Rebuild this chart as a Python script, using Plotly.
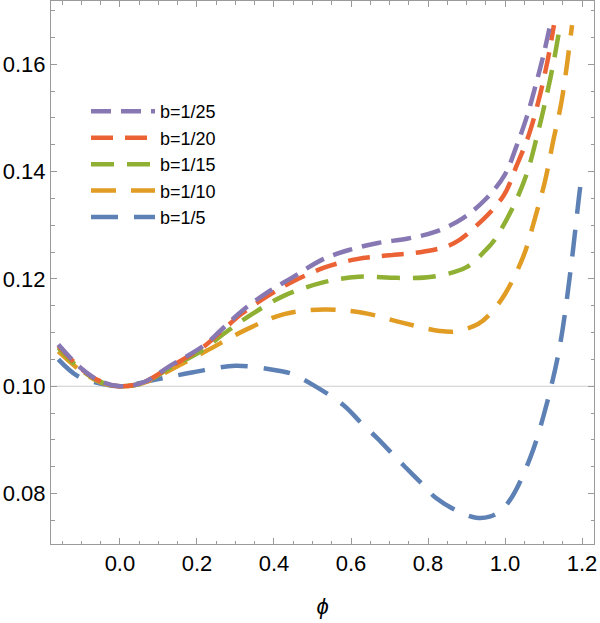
import plotly.graph_objects as go

# ---- data ----
labels = ["b=1/5", "b=1/10", "b=1/15", "b=1/20", "b=1/25"]
colors = ["#5E81B5", "#E19C24", "#8FB032", "#EB6235", "#8778B3"]
dashes = ["27px,16px", "25px,15px", "23px,13px", "22px,12px", "20px,10px"]

phi_b5 = [-0.16, -0.11, -0.05, 0.0, 0.09, 0.19, 0.30, 0.42, 0.45, 0.50, 0.58, 0.63, 0.67, 0.71,
          0.74, 0.79, 0.82, 0.88, 0.925, 0.96, 0.99, 1.02, 1.065, 1.10, 1.14, 1.17, 1.182, 1.195, 1.20]
v_b5 = [0.1050, 0.1019, 0.1005, 0.1000, 0.1012, 0.1026, 0.1038, 0.1028, 0.1022, 0.1003, 0.0965,
        0.0929, 0.0902, 0.0872, 0.0850, 0.0814, 0.0792, 0.0766, 0.0755, 0.0757, 0.0769, 0.0796,
        0.0866, 0.0945, 0.1066, 0.1215, 0.1289, 0.1370, 0.1392]

phi_b10 = [-0.16, -0.10, -0.05, 0.0, 0.06, 0.13, 0.225, 0.329, 0.424, 0.53, 0.63, 0.73, 0.83, 0.87,
           0.93, 0.96, 1.0, 1.048, 1.078, 1.104, 1.125, 1.147, 1.174]
v_b10 = [0.1065, 0.1028, 0.1007, 0.1000, 0.1006, 0.1030, 0.1066, 0.1106, 0.1134, 0.1143, 0.1137,
         0.1119, 0.1103, 0.1102, 0.1116, 0.1134, 0.1172, 0.1243, 0.1314, 0.1383, 0.1457, 0.1532, 0.1673]

phi_b15 = [-0.16, -0.10, -0.05, 0.0, 0.06, 0.13, 0.216, 0.268, 0.338, 0.424, 0.53, 0.62, 0.72, 0.81,
           0.90, 0.95, 0.974, 1.02, 1.056, 1.082, 1.104, 1.125, 1.143]
v_b15 = [0.1072, 0.1030, 0.1008, 0.1000, 0.1006, 0.1034, 0.1068, 0.1097, 0.1132, 0.1168, 0.1194,
         0.1204, 0.1202, 0.1204, 0.1222, 0.1254, 0.1274, 0.1333, 0.1395, 0.1463, 0.1529, 0.1600, 0.1673]

phi_b20 = [-0.16, -0.10, -0.05, 0.0, 0.06, 0.13, 0.216, 0.26, 0.316, 0.381, 0.44, 0.53, 0.615, 0.70,
           0.79, 0.866, 0.93, 0.996, 1.03, 1.061, 1.087, 1.11, 1.127]
v_b20 = [0.1076, 0.1032, 0.1009, 0.1000, 0.1007, 0.1036, 0.1073, 0.1100, 0.1135, 0.1167, 0.1192,
         0.1221, 0.1237, 0.1244, 0.1251, 0.1266, 0.1302, 0.1355, 0.1411, 0.1467, 0.1532, 0.1605, 0.1673]

phi_b25 = [-0.16, -0.10, -0.05, 0.0, 0.06, 0.13, 0.216, 0.26, 0.316, 0.381, 0.446, 0.528, 0.60,
           0.67, 0.745, 0.82, 0.89, 0.95, 1.0, 1.03, 1.056, 1.078, 1.10, 1.117]
v_b25 = [0.1078, 0.1033, 0.1009, 0.1000, 0.1007, 0.1038, 0.1075, 0.1103, 0.1140, 0.1174, 0.1202,
         0.1237, 0.1255, 0.1267, 0.1275, 0.1288, 0.1313, 0.1349, 0.1395, 0.1448, 0.1501, 0.1557,
         0.1618, 0.1673]

xs = [phi_b5, phi_b10, phi_b15, phi_b20, phi_b25]
ys = [v_b5, v_b10, v_b15, v_b20, v_b25]

x_range = [-0.179, 1.231]
y_range = [0.0706, 0.1718]
x_ticks = [0.0, 0.2, 0.4, 0.6, 0.8, 1.0, 1.2]
x_ticktext = ["0.0", "0.2", "0.4", "0.6", "0.8", "1.0", "1.2"]
y_ticks = [0.08, 0.10, 0.12, 0.14, 0.16]
y_ticktext = ["0.08", "0.10", "0.12", "0.14", "0.16"]
axis_line_y = 0.10

fig = go.Figure()
for x, y, lab, col, dsh in zip(xs, ys, labels, colors, dashes):
    fig.add_trace(go.Scatter(
        x=x, y=y, mode="lines", name=lab,
        line=dict(color=col, width=4.5, dash=dsh, shape="spline", smoothing=1.0),
    ))

fig.add_shape(type="line", xref="paper", x0=0, x1=1, yref="y", y0=axis_line_y, y1=axis_line_y,
              line=dict(color="#cccccc", width=1), layer="below")

frame = "#9a9a9a"
font_main = dict(family="Liberation Sans, Arial, sans-serif", size=22, color="#000000")

fig.update_xaxes(
    range=x_range, tickvals=x_ticks, ticktext=x_ticktext,
    showgrid=False, zeroline=False,
    showline=True, linecolor=frame, linewidth=1, mirror="allticks",
    ticks="inside", ticklen=6, tickcolor=frame, tickwidth=1,
    minor=dict(dtick=0.05, tick0=0, ticks="inside", ticklen=3.5, tickcolor=frame, showgrid=False),
    tickfont=font_main,
    title=dict(text="<i>ϕ</i>", font=font_main, standoff=23),
)
fig.update_yaxes(
    range=y_range, tickvals=y_ticks, ticktext=y_ticktext,
    showgrid=False, zeroline=False,
    showline=True, linecolor=frame, linewidth=1, mirror="allticks",
    ticks="inside", ticklen=6, tickcolor=frame, tickwidth=1,
    minor=dict(dtick=0.005, tick0=0, ticks="inside", ticklen=3.5, tickcolor=frame, showgrid=False),
    tickfont=font_main,
)

fig.update_layout(
    width=600, height=623,
    margin=dict(l=51, r=6, t=1, b=79),
    paper_bgcolor="white", plot_bgcolor="white",
    font=font_main,
    legend=dict(
        x=(86 - 51) / 543, y=1 - 92 / 542, xanchor="left", yanchor="top",
        traceorder="reversed", itemwidth=64,
        font=dict(family="Liberation Sans, Arial, sans-serif", size=18, color="#000000"),
        bgcolor="rgba(0,0,0,0)",
    ),
    showlegend=True,
)

fig.write_html("out.html")
